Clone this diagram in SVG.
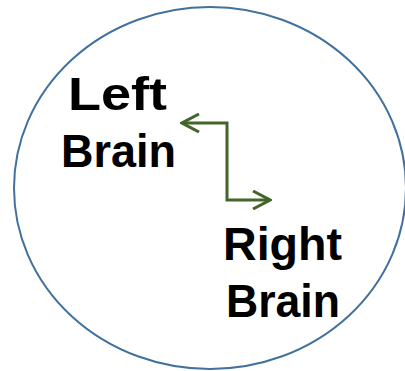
<svg xmlns="http://www.w3.org/2000/svg" width="405" height="371" viewBox="0 0 405 371">
<style>
.lbl{font-family:"Comic Sans MS","Liberation Sans",Arial,sans-serif;font-weight:bold;font-size:47px;fill:#000}
.conn{fill:none;stroke:#42652A;stroke-width:3;stroke-linejoin:miter}
</style>
<defs>
<marker id="chev" viewBox="0 0 20 20" refX="18" refY="10" markerWidth="20" markerHeight="20" markerUnits="userSpaceOnUse" orient="auto-start-reverse">
<path d="M1,1 L18,10 L1,19" fill="none" stroke="#42652A" stroke-width="3"/>
</marker>
</defs>
<rect width="405" height="371" fill="#fff"/>
<g id="circle">
<ellipse cx="210" cy="188" rx="196" ry="181" fill="#fff" stroke="#41719C" stroke-width="2"/>
</g>
<g id="left-brain">
<text class="lbl" x="68" y="110" textLength="99" lengthAdjust="spacingAndGlyphs">Left</text>
<text class="lbl" x="61" y="167" textLength="115" lengthAdjust="spacingAndGlyphs">Brain</text>
</g>
<g id="right-brain">
<text class="lbl" x="223" y="260" textLength="119" lengthAdjust="spacingAndGlyphs">Right</text>
<text class="lbl" x="226" y="317" textLength="114" lengthAdjust="spacingAndGlyphs">Brain</text>
</g>
<g id="connectors">
<path class="conn" d="M182,123 H227 V200 H270" marker-start="url(#chev)" marker-end="url(#chev)"/>
</g>
</svg>
